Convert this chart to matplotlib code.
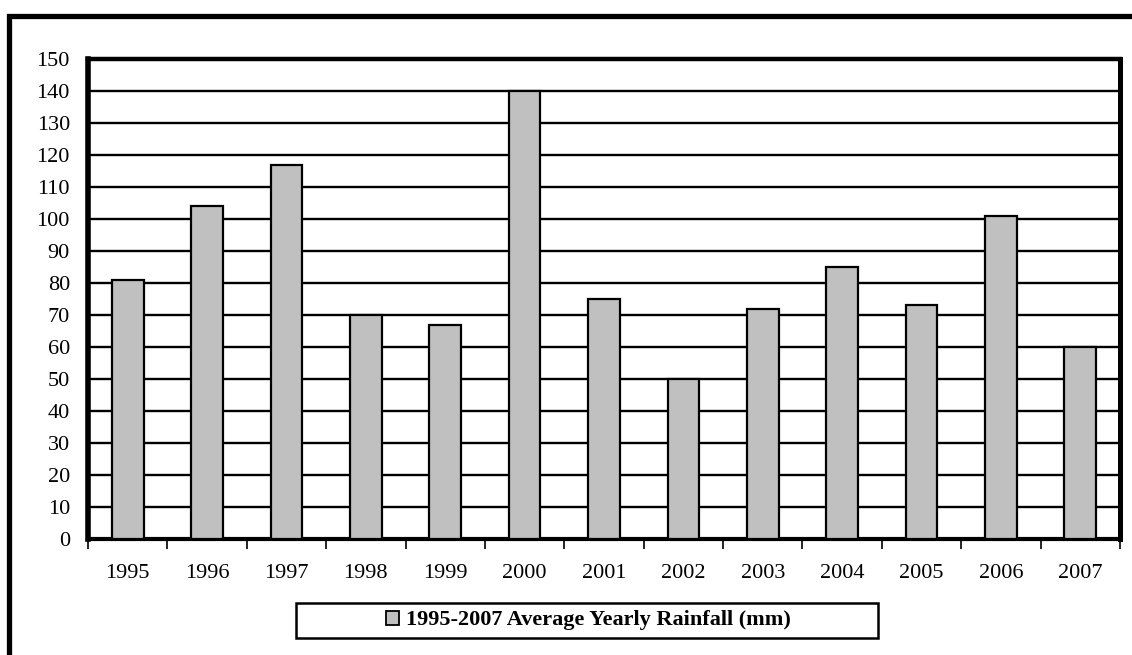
import numpy as np
from matplotlib import pyplot as plt
from matplotlib.patches import Rectangle, Patch

# Data ---------------------------------------------------------------
years = ['1995', '1996', '1997', '1998', '1999', '2000', '2001',
         '2002', '2003', '2004', '2005', '2006', '2007']
rainfall = [81, 104, 117, 70, 67, 140, 75, 50, 72, 85, 73, 101, 60]
y_ticks = list(range(0, 151, 10))
legend_label = '1995-2007 Average Yearly Rainfall (mm)'

plt.rcParams['font.family'] = ['Liberation Serif', 'DejaVu Serif']

W, H = 1132, 655
fig = plt.figure(figsize=(W / 100, H / 100), dpi=100)
ax = fig.add_axes([88 / W, 1 - 539 / H, (1120 - 88) / W, (539 - 59) / H])

x = np.arange(len(years))
ax.bar(x, rainfall, width=0.4, color='#C0C0C0', edgecolor='black',
       linewidth=1.6, zorder=3)

ax.set_xlim(-0.5, len(years) - 0.5)
ax.set_ylim(0, 150)
ax.set_yticks(y_ticks)
ax.set_xticks(x)
ax.set_xticklabels(years)
ax.set_xticks(np.arange(len(years) + 1) - 0.5, minor=True)

ax.tick_params(axis='y', length=0, pad=13, labelsize=16)
ax.tick_params(axis='x', which='major', length=0, pad=18, labelsize=16)
ax.tick_params(axis='x', which='minor', length=7, width=1.2, direction='out')

# Horizontal gridlines
ax.yaxis.grid(True, color='black', linewidth=1.7)
ax.set_axisbelow(True)

ax.spines['left'].set_linewidth(4)
ax.spines['top'].set_linewidth(3.2)
ax.spines['right'].set_linewidth(3.6)
ax.spines['bottom'].set_linewidth(3)

# Legend (frame drawn separately, it is wider than its contents)
legend_elements = [Patch(facecolor='#C0C0C0', edgecolor='black', linewidth=1.3,
                         label=legend_label)]
leg = fig.legend(handles=legend_elements, loc='center',
                 bbox_to_anchor=(588 / W, 1 - 620.5 / H),
                 prop={'weight': 'bold', 'size': 16}, frameon=False,
                 handlelength=0.6, handleheight=0.6, handletextpad=0.3,
                 borderpad=0, borderaxespad=0)

legend_box = Rectangle((296 / W, 1 - 638 / H), (878 - 296) / W, 35 / H,
                       transform=fig.transFigure, fill=False,
                       edgecolor='black', linewidth=1.8)
fig.add_artist(legend_box)

# Outer chart frame (runs off the right and bottom edges)
frame = Rectangle((9 / W, -0.1), 1.2, 1 - 16 / H + 0.1,
                  transform=fig.transFigure, fill=False,
                  edgecolor='black', linewidth=3.8, clip_on=False)
fig.add_artist(frame)

plt.savefig('out.png', dpi=100)
